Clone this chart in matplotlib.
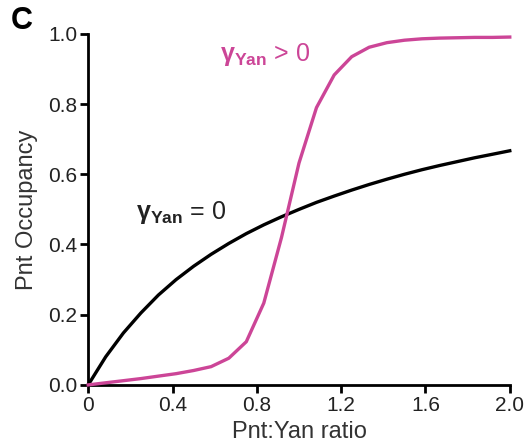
import matplotlib
matplotlib.use("Agg")
import matplotlib.pyplot as plt

plt.rcParams['font.family'] = ['Liberation Sans', 'DejaVu Sans']
plt.rcParams['mathtext.fontset'] = 'custom'
plt.rcParams['mathtext.rm'] = 'Liberation Sans'
plt.rcParams['mathtext.bf'] = 'Liberation Sans:bold'
plt.rcParams['mathtext.it'] = 'Liberation Sans:italic'

# Pnt:Yan ratio sample points (steps of 1/12)
ratio = [0, 0.083, 0.167, 0.25, 0.333, 0.417, 0.5, 0.583, 0.667, 0.75, 0.833,
         0.917, 1.0, 1.083, 1.167, 1.25, 1.333, 1.417, 1.5, 1.583, 1.667,
         1.75, 1.833, 1.917, 2.0]
occ_gamma0 = [0, 0.08, 0.148, 0.205, 0.256, 0.3, 0.338, 0.372, 0.403, 0.431,
              0.456, 0.479, 0.5, 0.52, 0.538, 0.555, 0.571, 0.586, 0.6, 0.613,
              0.625, 0.636, 0.647, 0.657, 0.667]
occ_gamma_pos = [0, 0.006, 0.012, 0.018, 0.025, 0.032, 0.041, 0.052, 0.076,
                 0.123, 0.233, 0.42, 0.632, 0.79, 0.883, 0.935, 0.962, 0.975,
                 0.982, 0.986, 0.988, 0.989, 0.99, 0.99, 0.991]

x_ticks = [0, 0.4, 0.8, 1.2, 1.6, 2.0]
x_ticklabels = ['0', '0.4', '0.8', '1.2', '1.6', '2.0']
y_ticks = [0, 0.2, 0.4, 0.6, 0.8, 1.0]
y_ticklabels = ['0.0', '0.2', '0.4', '0.6', '0.8', '1.0']

pink = '#CC4597'

fig = plt.figure(figsize=(5.25, 4.46), dpi=100)
ax = fig.add_axes([0.168, 0.137, 0.803, 0.787])

ax.plot(ratio, occ_gamma0, color='black', lw=2.4, clip_on=False, zorder=3)
ax.plot(ratio, occ_gamma_pos, color=pink, lw=2.4, clip_on=False, zorder=4)

ax.set_xlim(0, 2.0)
ax.set_ylim(0, 1.0)
ax.set_xticks(x_ticks)
ax.set_xticklabels(x_ticklabels)
ax.set_yticks(y_ticks)
ax.set_yticklabels(y_ticklabels)
for s in ['top', 'right']:
    ax.spines[s].set_visible(False)
for s in ['left', 'bottom']:
    ax.spines[s].set_linewidth(2.0)
ax.tick_params(axis='both', width=2.0, length=6, labelsize=15, pad=2,
               colors='black', labelcolor='#222222')

ax.set_xlabel('Pnt:Yan ratio', fontsize=17, color='#333333', labelpad=4)
ax.set_ylabel('Pnt Occupancy', fontsize=17, color='#333333', labelpad=7)

ax.text(0.225, 0.49, r'$\mathbf{\gamma}_{\mathbf{Yan}}$ = 0', fontsize=18,
        color='#222222', ha='left', va='center')
ax.text(0.625, 0.94, r'$\mathbf{\gamma}_{\mathbf{Yan}}$ > 0', fontsize=18,
        color=pink, ha='left', va='center')

fig.text(0.02, 0.952, 'C', fontsize=22, fontweight='bold', ha='left', va='center')

fig.savefig('out.png', dpi=100)
